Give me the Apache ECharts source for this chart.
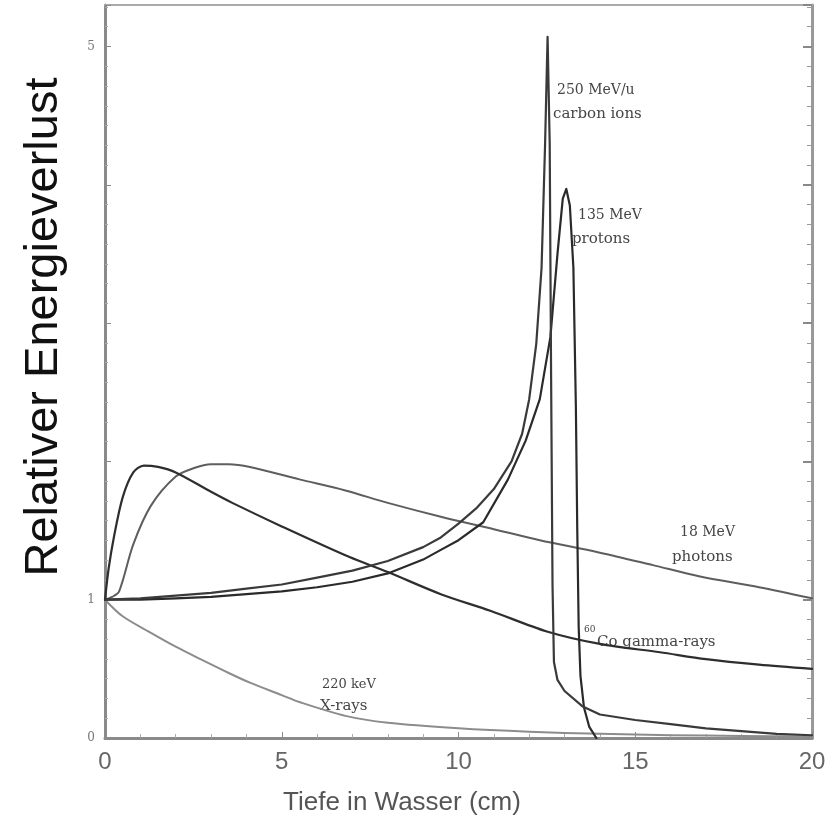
<!DOCTYPE html>
<html>
<head>
<meta charset="utf-8">
<script src="https://cdn.jsdelivr.net/npm/echarts@6/dist/echarts.min.js"></script>
<style>html,body{margin:0;padding:0;background:#fff}#c{width:832px;height:828px}</style>
</head>
<body>
<div id="c"></div>
<script>
// Depth in water (cm) and relative energy loss for each radiation type
const depthCarbon = [0,1,2,3,4,5,6,7,8,9,9.5,10,10.5,11,11.5,11.8,12.0,12.2,12.35,12.45,12.52,12.58,12.62,12.66,12.7,12.8,13,13.5,14,15,16,17,18,19,20];
const doseCarbon  = [1.0,1.01,1.03,1.05,1.08,1.11,1.16,1.21,1.28,1.38,1.45,1.55,1.66,1.80,2.00,2.20,2.45,2.85,3.4,4.3,5.07,4.3,2.6,1.1,0.55,0.42,0.34,0.23,0.17,0.13,0.10,0.07,0.05,0.03,0.02];

const depthProton = [0,1,2,3,4,5,6,7,8,9,9.5,10,10.7,11.4,11.9,12.3,12.6,12.8,12.95,13.05,13.15,13.25,13.32,13.36,13.4,13.45,13.55,13.7,13.9];
const doseProton  = [1.0,1.0,1.01,1.02,1.04,1.06,1.09,1.13,1.19,1.29,1.36,1.43,1.56,1.87,2.15,2.45,2.9,3.5,3.9,3.97,3.85,3.4,2.4,1.5,0.8,0.45,0.22,0.08,0.0];

const depthPhoton = [0,0.2,0.4,0.8,1.3,2,2.5,3,3.5,4.1,5.5,6.8,8,9.5,11,12.3,14,15.5,16.8,18.5,20];
const dosePhoton  = [1.0,1.02,1.06,1.40,1.68,1.89,1.95,1.98,1.98,1.96,1.87,1.79,1.70,1.60,1.51,1.43,1.34,1.25,1.17,1.09,1.01];

const depthCobalt = [0,0.1,0.25,0.5,0.8,1.1,1.5,2,3,3.6,5,6.9,8,9.5,10.9,12.5,14,15.7,17,18.5,20];
const doseCobalt  = [1.0,1.22,1.45,1.74,1.92,1.97,1.96,1.92,1.78,1.70,1.53,1.31,1.20,1.04,0.92,0.77,0.68,0.62,0.57,0.53,0.50];

const depthXray = [0,0.5,1.3,2,2.7,3.5,4.1,5,5.5,6.8,8,10,12,14,16,18,20];
const doseXray  = [1.0,0.88,0.76,0.66,0.57,0.47,0.40,0.31,0.26,0.16,0.11,0.07,0.045,0.03,0.02,0.015,0.01];

const xTicks = [0,5,10,15,20];
const yLabelValues = [0,1,5];

function pairs(xs, ys){ return xs.map((x,i)=>[x, ys[i]]); }

const chart = echarts.init(document.getElementById('c'), null, {renderer:'canvas'});
const axisGrey = '#8a8a8a';

function mkSeries(name, xs, ys, color, width, smooth){
  return {name, type:'line', data:pairs(xs,ys), showSymbol:false, smooth:smooth,
    lineStyle:{color, width, join:'round', cap:'round'}, xAxisIndex:0, yAxisIndex:0, z:5, animation:false};
}

const serif = '"DejaVu Serif", "Liberation Serif", serif';
const txtColor = '#454545';
function t(x,y,s,size,opts){
  return Object.assign({type:'text', x, y, style:{text:s, fontSize:size||15, fontFamily:serif, fill:txtColor, textAlign:'left', textVerticalAlign:'middle'}}, opts||{});
}

chart.setOption({
  animation:false,
  backgroundColor:'#fff',
  grid:{left:105, right:20, top:5, bottom:90, containLabel:false},
  xAxis:[{
    type:'value', min:0, max:20, interval:5, position:'bottom',
    axisLine:{show:true, lineStyle:{color:axisGrey, width:3}},
    axisTick:{show:true, inside:true, length:6, lineStyle:{color:axisGrey}},
    minorTick:{show:true, splitNumber:5, length:4, lineStyle:{color:'#aaa'}},
    axisLabel:{fontSize:24, color:'#666', margin:12, fontFamily:'"Liberation Sans", Arial, sans-serif',
      formatter:v=> xTicks.includes(v) ? String(v) : ''},
    splitLine:{show:false}
  },{
    type:'value', min:0, max:20, position:'top',
    axisLine:{show:true, onZero:false, lineStyle:{color:'#aaa', width:2}},
    axisTick:{show:false}, axisLabel:{show:false}, splitLine:{show:false}
  }],
  yAxis:[{
    type:'value', min:0, max:5.3, interval:1, position:'left',
    axisLine:{show:true, lineStyle:{color:axisGrey, width:3}},
    axisTick:{show:true, inside:true, length:6, lineStyle:{color:axisGrey}},
    minorTick:{show:true, splitNumber:7, length:3, lineStyle:{color:'#aaa'}},
    axisLabel:{fontSize:12, color:'#777', margin:10, fontFamily:serif,
      formatter:v=> yLabelValues.includes(v) ? String(v) : ''},
    splitLine:{show:false}
  },{
    type:'value', min:0, max:5.3, interval:1, position:'right',
    axisLine:{show:true, onZero:false, lineStyle:{color:'#999', width:3}},
    axisTick:{show:true, inside:true, length:9, lineStyle:{color:'#888', width:2}},
    minorTick:{show:true, splitNumber:7, length:5, lineStyle:{color:'#999'}},
    axisLabel:{show:false}, splitLine:{show:false}
  }],
  series:[
    mkSeries('220 keV X-rays', depthXray, doseXray, '#8c8c8c', 2, 0.3),
    mkSeries('18 MeV photons', depthPhoton, dosePhoton, '#5e5e5e', 2, 0.3),
    mkSeries('60Co gamma-rays', depthCobalt, doseCobalt, '#2e2e2e', 2.2, 0.3),
    mkSeries('135 MeV protons', depthProton, doseProton, '#2a2a2a', 2.2, false),
    mkSeries('250 MeV/u carbon ions', depthCarbon, doseCarbon, '#3a3a3a', 2.2, false)
  ],
  graphic:[
    {type:'text', x:44, y:327, rotation:Math.PI/2,
      style:{text:'Relativer Energieverlust', fontSize:47, fontFamily:'"Liberation Sans", Arial, sans-serif', fill:'#111', textAlign:'center', textVerticalAlign:'middle'}},
    {type:'text', x:402, y:803,
      style:{text:'Tiefe in Wasser (cm)', fontSize:26, fontFamily:'"Liberation Sans", Arial, sans-serif', fill:'#555', textAlign:'center', textVerticalAlign:'middle'}},
    t(557, 90, '250 MeV/u', 14),
    t(553, 114, 'carbon ions', 15),
    t(578, 215, '135 MeV', 14),
    t(572, 239, 'protons', 15),
    t(680, 532, '18 MeV', 14),
    t(672, 557, 'photons', 15),
    t(584, 630, '60', 9),
    t(597, 642, 'Co gamma-rays', 15),
    t(322, 685, '220 keV', 13),
    t(320, 706, 'X-rays', 15)
  ]
});
</script>
</body>
</html>
